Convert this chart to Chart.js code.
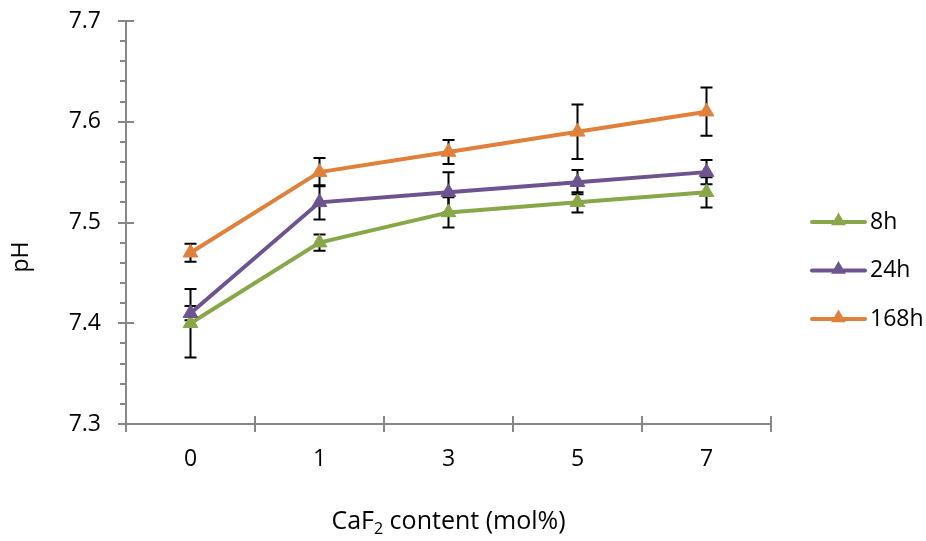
<!DOCTYPE html>
<html>
<head>
<meta charset="utf-8">
<script src="https://cdn.jsdelivr.net/npm/chart.js@4.4.1/dist/chart.umd.min.js"></script>
<style>
  html, body { margin: 0; padding: 0; background: #fff; }
</style>
</head>
<body>
<canvas id="phChart" width="926" height="541"></canvas>
<script>
// pH vs CaF2 content, three immersion times
const categories = ['0', '1', '3', '5', '7'];
const seriesNames = ['8h', '24h', '168h'];
const ph8h   = [7.40, 7.48, 7.51, 7.52, 7.53];
const ph24h  = [7.41, 7.52, 7.53, 7.54, 7.55];
const ph168h = [7.47, 7.55, 7.57, 7.59, 7.61];
// standard deviations
const err8h   = [0.034, 0.008, 0.015, 0.010, 0.015];
const err24h  = [0.007, 0.017, 0.020, 0.012, 0.012];
const err168h = [0.009, 0.014, 0.012, 0.027, 0.024];
const yMin = 7.3, yMax = 7.7, yStep = 0.1, yMinorStep = 0.02;

const colors = ['#87A748', '#6E548E', '#E0803A'];
const axisColor = '#878787';
const fontFamily = '"Open Sans", "DejaVu Sans", sans-serif';
const fontSize = 23;
const titleSize = 25;

const errorBars = {
  id: 'errorBars',
  beforeDatasetsDraw(chart) {
    const { ctx, scales: { x, y } } = chart;
    ctx.save();
    ctx.strokeStyle = '#000';
    ctx.lineWidth = 2;
    chart.data.datasets.forEach(ds => {
      ds.data.forEach((v, i) => {
        const e = ds.errors[i];
        const px = x.getPixelForValue(i);
        const top = y.getPixelForValue(v + e);
        const bot = y.getPixelForValue(v - e);
        ctx.beginPath();
        ctx.moveTo(px, top); ctx.lineTo(px, bot);
        ctx.moveTo(px - 6, top); ctx.lineTo(px + 6, top);
        ctx.moveTo(px - 6, bot); ctx.lineTo(px + 6, bot);
        ctx.stroke();
      });
    });
    ctx.restore();
  }
};

function triangle(ctx, cx, cy, r, color) {
  ctx.beginPath();
  for (let k = 0; k < 3; k++) {
    const a = k * 2 * Math.PI / 3;
    const px = cx + Math.sin(a) * r, py = cy - Math.cos(a) * r;
    if (k === 0) ctx.moveTo(px, py); else ctx.lineTo(px, py);
  }
  ctx.closePath();
  ctx.fillStyle = color;
  ctx.fill();
}

// axis tick marks, axis titles, legend
const decorations = {
  id: 'decorations',
  afterDraw(chart) {
    const { ctx, scales: { x, y }, chartArea } = chart;
    ctx.save();
    ctx.strokeStyle = axisColor;
    ctx.lineWidth = 2;
    ctx.beginPath();
    // y ticks: major cross the axis, minor outside only
    const nMinor = Math.round((yMax - yMin) / yMinorStep);
    for (let k = 0; k <= nMinor; k++) {
      const py = Math.round(y.getPixelForValue(yMin + k * yMinorStep));
      const major = k % 5 === 0;
      ctx.moveTo(chartArea.left - (major ? 8 : 6), py);
      ctx.lineTo(chartArea.left + (major ? 8 : 0), py);
    }
    // x ticks between categories
    const half = (x.getPixelForValue(1) - x.getPixelForValue(0)) / 2;
    for (let i = 0; i <= categories.length; i++) {
      const px = x.getPixelForValue(i) - half;
      ctx.moveTo(px, chartArea.bottom - 8);
      ctx.lineTo(px, chartArea.bottom + 8);
    }
    ctx.stroke();

    ctx.fillStyle = '#000';
    ctx.textBaseline = 'middle';

    // y axis title
    ctx.save();
    ctx.translate(21, 257);
    ctx.rotate(-Math.PI / 2);
    ctx.textAlign = 'center';
    ctx.font = fontSize + 'px ' + fontFamily;
    ctx.fillText('pH', 0, 0);
    ctx.restore();

    // x axis title with subscript
    ctx.textAlign = 'left';
    const big = titleSize + 'px ' + fontFamily;
    const small = Math.round(titleSize * 0.65) + 'px ' + fontFamily;
    const parts = [['CaF', big, 0], ['2', small, 7], [' content (mol%)', big, 0]];
    let total = 0;
    parts.forEach(p => { ctx.font = p[1]; total += ctx.measureText(p[0]).width; });
    let tx = (chartArea.left + chartArea.right) / 2 - total / 2;
    const ty = 522;
    parts.forEach(p => {
      ctx.font = p[1];
      ctx.fillText(p[0], tx, ty + p[2]);
      tx += ctx.measureText(p[0]).width;
    });

    // legend
    ctx.font = fontSize + 'px ' + fontFamily;
    const rowY = [222, 270.5, 319];
    chart.data.datasets.forEach((ds, i) => {
      const cy = rowY[i];
      ctx.strokeStyle = ds.borderColor;
      ctx.lineWidth = 4;
      ctx.lineCap = 'round';
      ctx.beginPath();
      ctx.moveTo(812, cy); ctx.lineTo(865, cy);
      ctx.stroke();
      triangle(ctx, 838.5, cy - 1, 8.5, ds.borderColor);
      ctx.fillStyle = '#000';
      ctx.fillText(ds.label, 870, cy);
    });
    ctx.restore();
  }
};

const makeSet = (label, values, errors, color, order) => ({
  label: label,
  data: values,
  errors: errors,
  borderColor: color,
  backgroundColor: color,
  borderWidth: 4,
  pointStyle: 'triangle',
  pointRadius: 8.5,
  pointBorderWidth: 1,
  tension: 0,
  order: order
});

new Chart(document.getElementById('phChart'), {
  type: 'line',
  data: {
    labels: categories,
    datasets: [
      makeSet(seriesNames[0], ph8h, err8h, colors[0], 3),
      makeSet(seriesNames[1], ph24h, err24h, colors[1], 2),
      makeSet(seriesNames[2], ph168h, err168h, colors[2], 1)
    ]
  },
  options: {
    responsive: false,
    animation: false,
    layout: { padding: { top: 21, right: 155, bottom: 0, left: 0 } },
    plugins: { legend: { display: false }, tooltip: { enabled: false } },
    scales: {
      x: {
        offset: true,
        grid: { display: false, drawTicks: false },
        border: { display: true, color: axisColor, width: 2 },
        ticks: { color: '#000', font: { family: fontFamily, size: fontSize }, padding: 22 },
        afterFit: s => { s.height = 117; }
      },
      y: {
        min: yMin,
        max: yMax,
        grid: { display: false, drawTicks: false },
        border: { display: true, color: axisColor, width: 2 },
        ticks: {
          stepSize: yStep,
          color: '#000',
          font: { family: fontFamily, size: fontSize },
          padding: 25,
          callback: v => v.toFixed(1)
        },
        afterFit: s => {
          s.width = 126;
          s.paddingTop = 0;
          s.paddingBottom = 0;
        }
      }
    }
  },
  plugins: [errorBars, decorations]
});
</script>
</body>
</html>
